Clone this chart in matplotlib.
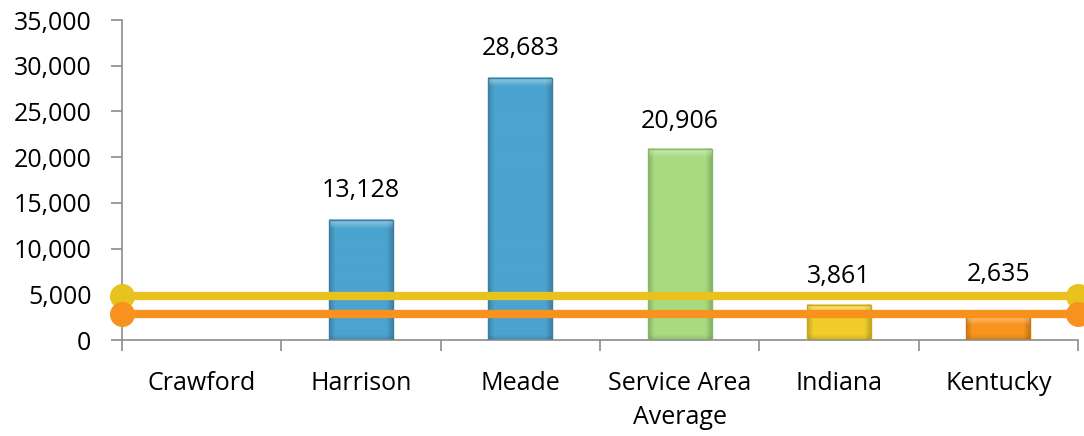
import numpy as np
import matplotlib
matplotlib.use('Agg')
import matplotlib.pyplot as plt
import matplotlib.ticker as ticker
from matplotlib.colors import to_rgb

plt.rcParams.update({'font.size': 18, 'font.family': ['Open Sans', 'DejaVu Sans']})

categories = ['Crawford', 'Harrison', 'Meade', 'Service Area\nAverage', 'Indiana', 'Kentucky']
values = [np.nan, 13128, 28683, 20906, 3861, 2635]
bar_colors = ['#4ba3cf', '#4ba3cf', '#4ba3cf', '#a8db80', '#f0cd2a', '#f7941e']
edge_colors = ['#3a7fa3', '#3a7fa3', '#3a7fa3', '#86b863', '#c9a818', '#cc7512']
# label gap above each bar, in points
label_gaps = [0, 12, 12, 11, 11, 21]

# reference lines for the two states
indiana_line = 4800
kentucky_line = 2850

fig, ax = plt.subplots(figsize=(10.84, 4.36), dpi=100)
fig.subplots_adjust(left=122 / 1084, right=1078 / 1084, top=1 - 20 / 436, bottom=1 - 340 / 436)

ax.set_xlim(-0.5, 5.5)
ax.set_ylim(0, 35000)

x = np.arange(len(categories))
width = 0.4
ax.bar(x, values, width=width, color='none', edgecolor=edge_colors, linewidth=1.0, zorder=3)


def bevel(color, h, w, top=9, side=6, bottom=5):
    # shaded block: light top bevel, darker sides and foot
    base = np.array(to_rgb(color))
    img = np.tile(base, (h, w, 1))
    cols = np.arange(w)
    rows = np.arange(h)
    side_d = np.minimum(cols, w - 1 - cols)
    shade = np.clip(1 - 0.18 * (1 - side_d / side), 0.82, 1.0)
    img *= shade[None, :, None]
    foot = np.clip(1 - 0.12 * (1 - (h - 1 - rows) / bottom), 0.88, 1.0)
    img *= foot[:, None, None]
    lift = np.clip(1 - rows / top, 0, 1) * 0.45
    img[:top] = img[:top] + (1 - img[:top]) * lift[:top, None, None]
    return np.clip(img, 0, 1)


px_per_unit = ax.transData.transform((0, 1))[1] - ax.transData.transform((0, 0))[1]
px_per_x = ax.transData.transform((1, 0))[0] - ax.transData.transform((0, 0))[0]
for xi, v, c in zip(x, values, bar_colors):
    if np.isnan(v):
        continue
    h = max(int(round(v * px_per_unit)), 12)
    w = int(round(width * px_per_x))
    ax.imshow(bevel(c, h, w), extent=(xi - width / 2, xi + width / 2, 0, v),
              aspect='auto', zorder=2, interpolation='bilinear')

for xi, v, g in zip(x, values, label_gaps):
    if np.isnan(v):
        continue
    ax.annotate(f'{v:,.0f}', (xi, v), xytext=(0, g), textcoords='offset points',
                ha='center', va='bottom', fontsize=18, zorder=5)

ax.plot([-0.5, 5.5], [indiana_line, indiana_line], color='#e8c21e', lw=6,
        marker='o', ms=17, clip_on=False, zorder=4, solid_capstyle='butt')
ax.plot([-0.5, 5.5], [kentucky_line, kentucky_line], color='#f7921e', lw=6,
        marker='o', ms=17, clip_on=False, zorder=4, solid_capstyle='butt')

ax.set_xlim(-0.5, 5.5)
ax.set_ylim(0, 35000)
ax.yaxis.set_major_locator(ticker.MultipleLocator(5000))
ax.yaxis.set_major_formatter(ticker.FuncFormatter(lambda v, p: f'{v:,.0f}'))

ax.set_xticks(x)
ax.set_xticklabels(categories, linespacing=1.5)
ax.set_xticks(np.arange(-0.5, 6, 1), minor=True)
ax.tick_params(axis='x', which='major', length=0, pad=22)
ax.tick_params(axis='x', which='minor', length=8, width=1.2, color='#8c8c8c', direction='out')
ax.tick_params(axis='y', length=8, width=1.2, color='#8c8c8c', pad=14)

for side in ['top', 'right']:
    ax.spines[side].set_visible(False)
for side in ['left', 'bottom']:
    ax.spines[side].set_color('#8c8c8c')
    ax.spines[side].set_linewidth(1.2)

fig.savefig('out.png', dpi=100)
